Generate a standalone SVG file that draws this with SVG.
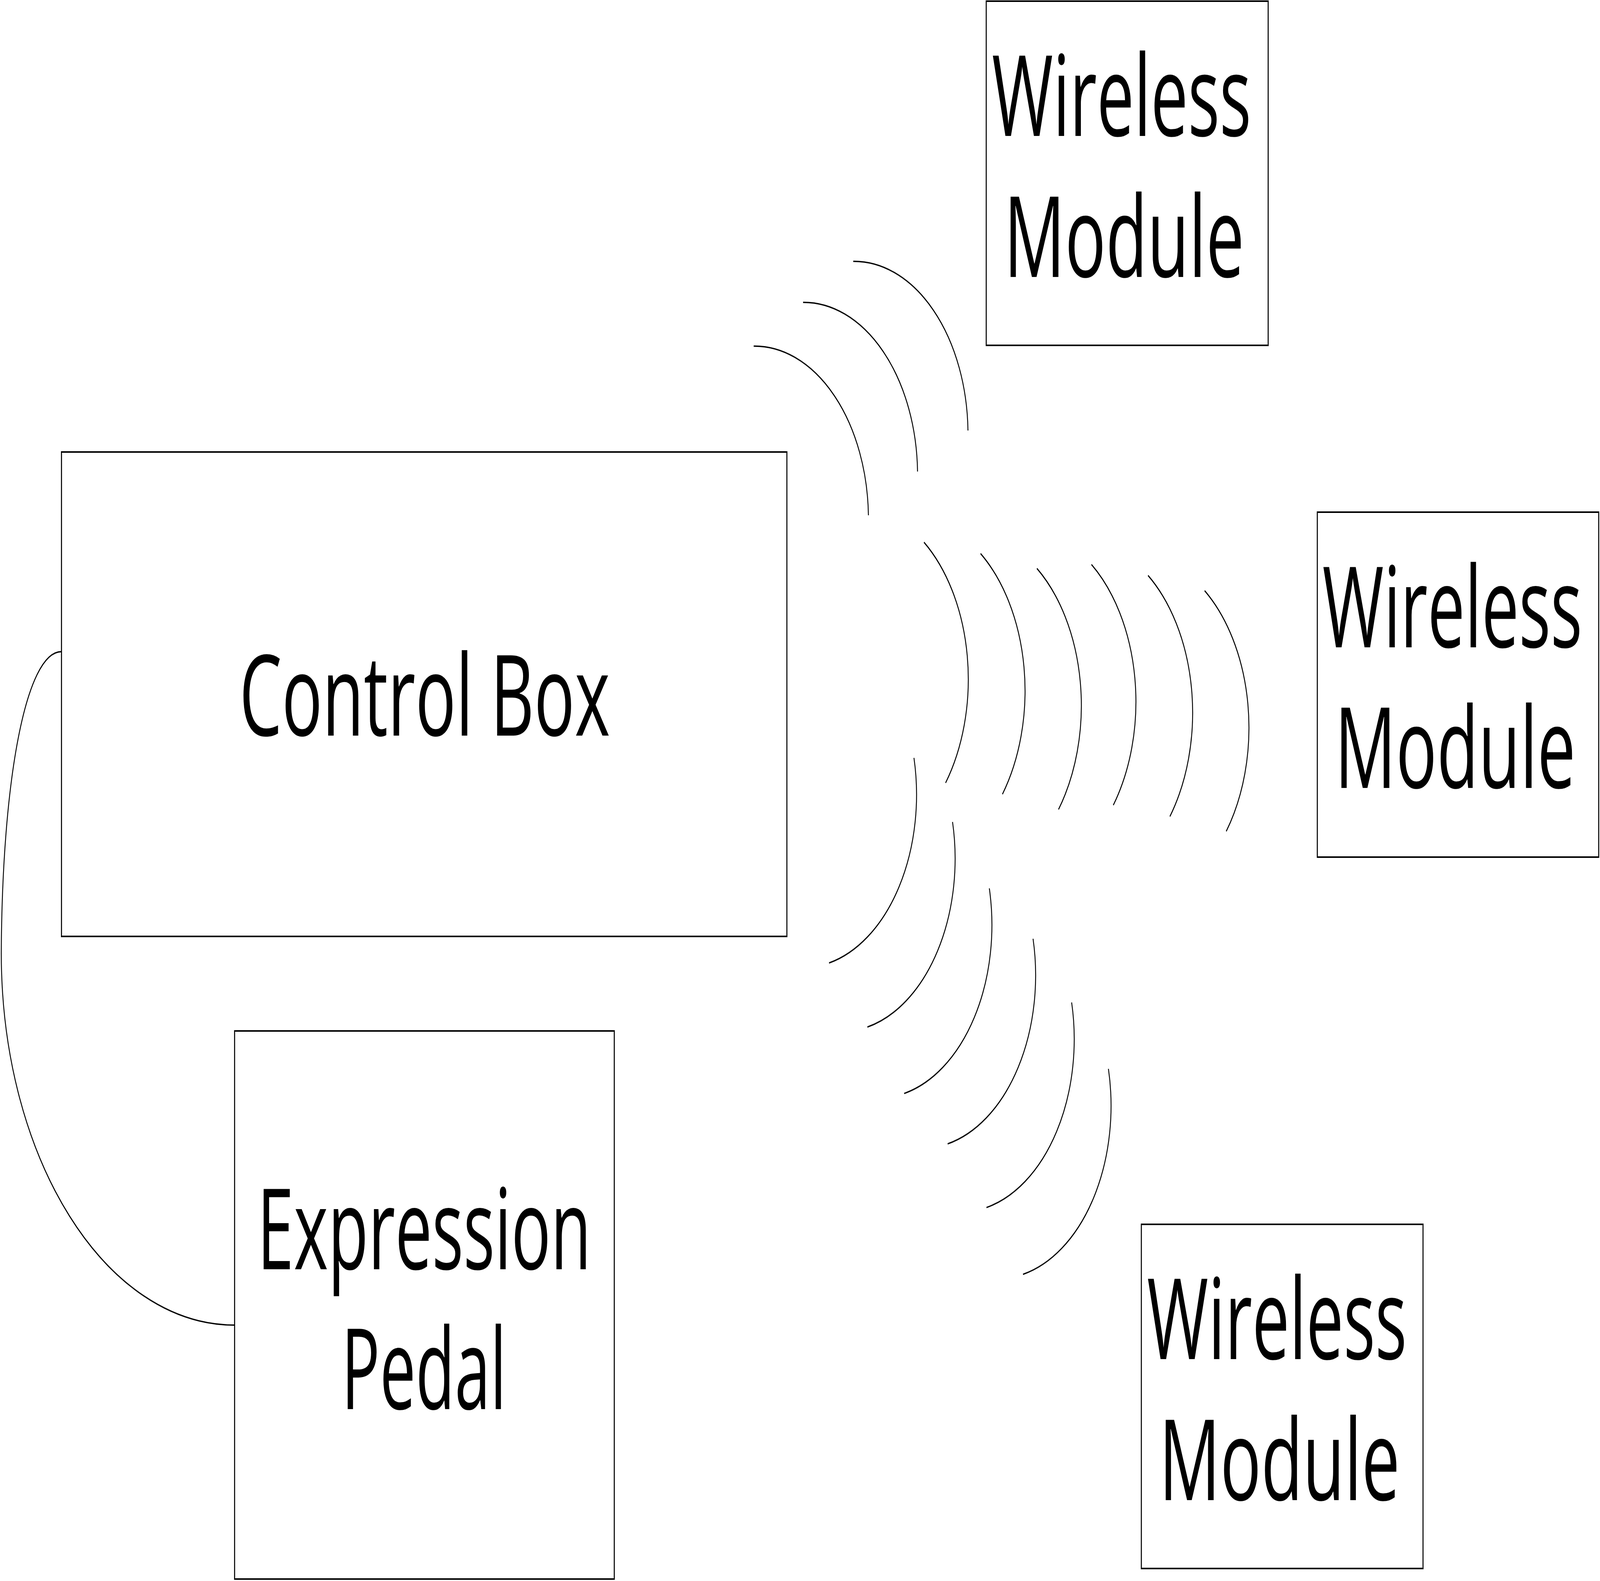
<svg xmlns="http://www.w3.org/2000/svg" width="6220" height="4047" viewBox="0 0 6220 4047" preserveAspectRatio="none">
<style>
svg:root{width:100vw;height:100vh;display:block}
.box{fill:#ffffff;stroke:#000000;stroke-width:4}
.lbl{font-family:"Open Sans","Noto Sans","DejaVu Sans",sans-serif;font-size:288px;fill:#000000;text-anchor:middle}
.wave{fill:none;stroke:#000000;stroke-width:3.5;stroke-linecap:butt}
.conn{fill:none;stroke:#000000;stroke-width:3.5}
</style>
<rect x="0" y="0" width="6220" height="4047" fill="#ffffff"/>
<g id="connectors">
<path class="conn" d="M 239 1668 C 100 1668 8 2000 5 2440 C 5 2966 411 3392 912 3392"/>
<g id="waves-up">
<path class="wave" d="M 2930 886 A 443 443 0 0 1 3376 1319"/>
<path class="wave" d="M 3122 774 A 443 443 0 0 1 3567 1207"/>
<path class="wave" d="M 3317 669 A 443 443 0 0 1 3763 1102"/>
</g>
<g id="waves-right">
<path class="wave" d="M 3592 1388 A 443 443 0 0 1 3676 2004"/>
<path class="wave" d="M 3812 1417 A 443 443 0 0 1 3897 2033"/>
<path class="wave" d="M 4031 1455 A 443 443 0 0 1 4115 2072"/>
<path class="wave" d="M 4243 1445 A 443 443 0 0 1 4328 2061"/>
<path class="wave" d="M 4463 1473 A 443 443 0 0 1 4548 2090"/>
<path class="wave" d="M 4683 1512 A 443 443 0 0 1 4767 2128"/>
</g>
<g id="waves-down">
<path class="wave" d="M 3553 1940 A 443 443 0 0 1 3223 2465"/>
<path class="wave" d="M 3703 2104 A 443 443 0 0 1 3372 2629"/>
<path class="wave" d="M 3846 2274 A 443 443 0 0 1 3515 2799"/>
<path class="wave" d="M 4016 2403 A 443 443 0 0 1 3684 2928"/>
<path class="wave" d="M 4166 2566 A 443 443 0 0 1 3835 3091"/>
<path class="wave" d="M 4309 2736 A 443 443 0 0 1 3977 3262"/>
</g>
</g>
<g id="control-box">
<rect class="box" x="239" y="1157" width="2820" height="1240"/>
<text class="lbl" x="1651" y="1883" textLength="1441" lengthAdjust="spacingAndGlyphs">Control Box</text>
</g>
<g id="expression-pedal">
<rect class="box" x="912" y="2639" width="1476" height="1403"/>
<text class="lbl" x="1649" y="3249" textLength="1298" lengthAdjust="spacingAndGlyphs">Expression</text>
<text class="lbl" x="1648" y="3607" textLength="641" lengthAdjust="spacingAndGlyphs">Pedal</text>
</g>
<g id="wireless-module-top">
<rect class="box" x="3834" y="3" width="1096" height="881"/>
<text class="lbl" x="4360" y="348" textLength="1008" lengthAdjust="spacingAndGlyphs">Wireless</text>
<text class="lbl" x="4370" y="709" textLength="934" lengthAdjust="spacingAndGlyphs">Module</text>
</g>
<g id="wireless-module-right">
<rect class="box" x="5121" y="1311" width="1094" height="883"/>
<text class="lbl" x="5646" y="1657" textLength="1010" lengthAdjust="spacingAndGlyphs">Wireless</text>
<text class="lbl" x="5657" y="2017" textLength="936" lengthAdjust="spacingAndGlyphs">Module</text>
</g>
<g id="wireless-module-bottom">
<rect class="box" x="4437" y="3134" width="1095" height="881"/>
<text class="lbl" x="4964" y="3479" textLength="1010" lengthAdjust="spacingAndGlyphs">Wireless</text>
<text class="lbl" x="4974" y="3840" textLength="936" lengthAdjust="spacingAndGlyphs">Module</text>
</g>
</svg>
